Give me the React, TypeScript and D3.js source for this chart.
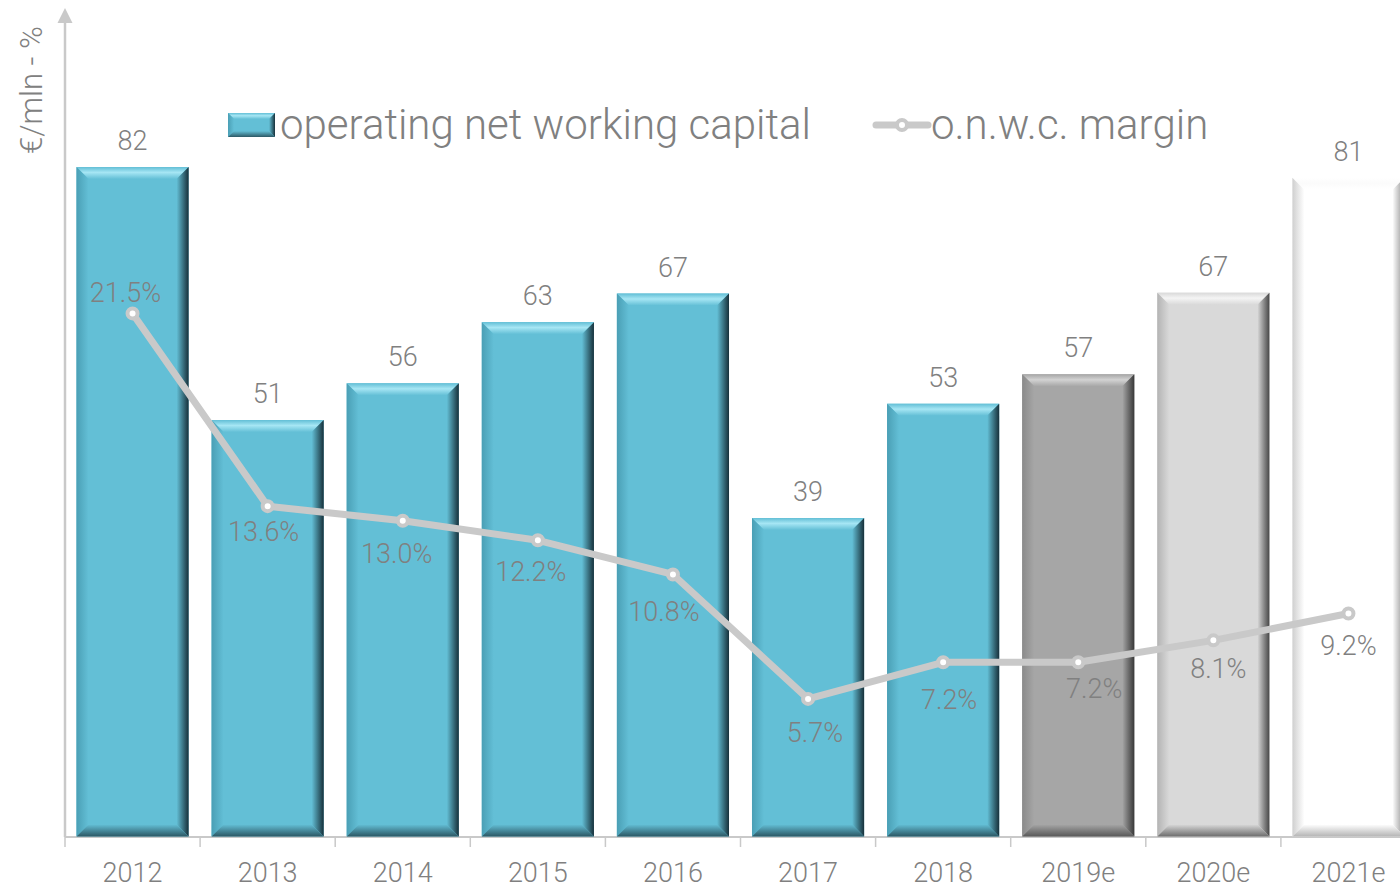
import * as d3 from "d3";

// data
const years = ["2012", "2013", "2014", "2015", "2016", "2017", "2018", "2019e", "2020e", "2021e"];
const onwc = [82, 51, 55.5, 63, 66.5, 39, 53, 56.6, 66.6, 80.7];
const margin = [21.5, 13.6, 13.0, 12.2, 10.8, 5.7, 7.2, 7.2, 8.1, 9.2];
const barTheme = ["teal", "teal", "teal", "teal", "teal", "teal", "teal", "dark", "light", "white"];
// manual label nudges for the margin labels, as placed in the original
const marginNudge: [number, number][] = [
  [-7, -21], [-4, 25], [-6, 33], [-7, 31], [-9, 37],
  [7, 34], [6, 37], [16, 26], [5, 28], [0, 32],
];

const W = 1400;
const H = 889;
const FONT = "Roboto, 'Noto Sans', sans-serif";
const TEXT = "#808080";
const LINE = "#c9c9c9";

const themes: Record<string, { body: string; edge: string; hi: string; right: string; bottom: string }> = {
  teal: { body: "#63bfd6", edge: "#4a9fb5", hi: "#a6e6f4", right: "#17303a", bottom: "#2c5865" },
  dark: { body: "#a6a6a6", edge: "#8a8a8a", hi: "#d2d2d2", right: "#383838", bottom: "#595959" },
  light: { body: "#d9d9d9", edge: "#b4b4b4", hi: "#f4f4f4", right: "#474747", bottom: "#6e6e6e" },
  white: { body: "#ffffff", edge: "#cfcfcf", hi: "#fbfbfb", right: "#8c8c8c", bottom: "#b5b5b5" },
};

const x = d3.scaleBand<string>().domain(years).range([65, 65 + 1351]).paddingInner(0.17).paddingOuter(0.085);
const y = d3.scaleLinear().domain([0, 100]).range([836.4, 20.1]);
const y2 = d3.scaleLinear().domain([0, 30]).range([838, 106]);

const fmtVal = d3.format(".0f");
const fmtPct = (v: number) => d3.format(".1f")(v) + "%";

function Gradients() {
  return (
    <defs>
      {Object.entries(themes).map(([k, t]) => (
        <g key={k}>
          <linearGradient id={`${k}-top`} x1="0" y1="0" x2="0" y2="1">
            <stop offset="0" stopColor={t.body} />
            <stop offset="0.45" stopColor={t.hi} />
            <stop offset="1" stopColor={t.body} />
          </linearGradient>
          <linearGradient id={`${k}-left`} x1="0" y1="0" x2="1" y2="0">
            <stop offset="0" stopColor={t.edge} />
            <stop offset="1" stopColor={t.body} />
          </linearGradient>
          <linearGradient id={`${k}-right`} x1="0" y1="0" x2="1" y2="0">
            <stop offset="0" stopColor={t.body} />
            <stop offset="0.5" stopColor={d3.interpolateRgb(t.body, t.right)(0.5)} />
            <stop offset="1" stopColor={t.right} />
          </linearGradient>
          <linearGradient id={`${k}-bottom`} x1="0" y1="0" x2="0" y2="1">
            <stop offset="0" stopColor={t.body} />
            <stop offset="1" stopColor={t.bottom} />
          </linearGradient>
        </g>
      ))}
    </defs>
  );
}

function BevelBar({ x0, y0, w, h, b, theme }: { x0: number; y0: number; w: number; h: number; b: number; theme: string }) {
  const x1 = x0 + w;
  const y1 = y0 + h;
  const t = themes[theme];
  const pts = (p: number[][]) => p.map((d) => d.join(",")).join(" ");
  return (
    <g>
      <rect x={x0} y={y0} width={w} height={h} fill={t.body} />
      <polygon points={pts([[x0, y0], [x1, y0], [x1 - b, y0 + b], [x0 + b, y0 + b]])} fill={`url(#${theme}-top)`} />
      <polygon points={pts([[x0, y0], [x0 + b, y0 + b], [x0 + b, y1 - b], [x0, y1]])} fill={`url(#${theme}-left)`} />
      <polygon points={pts([[x1 - b, y0 + b], [x1, y0], [x1, y1], [x1 - b, y1 - b]])} fill={`url(#${theme}-right)`} />
      <polygon points={pts([[x0 + b, y1 - b], [x1 - b, y1 - b], [x1, y1], [x0, y1]])} fill={`url(#${theme}-bottom)`} />
    </g>
  );
}

export default function App() {
  const bw = x.bandwidth();
  const step = x.step();
  const cx = (c: string) => (x(c) ?? 0) + bw / 2;
  const line = d3.line<number>().x((_, i) => cx(years[i])).y((d) => y2(d));
  const boundaries = d3.range(years.length + 1).map((i) => 65 + i * step);

  return (
    <div style={{ position: "fixed", left: 0, top: 0, width: W, height: H, overflow: "hidden", background: "#fff" }}>
      <svg width={W} height={H} style={{ display: "block", fontFamily: FONT, fontWeight: 300 }}>
        <Gradients />

        {/* axes */}
        <line x1={65} x2={65} y1={20} y2={837} stroke={LINE} strokeWidth={2.5} />
        <polygon points="65,8 57.5,23 72.5,23" fill={LINE} />
        <line x1={65} x2={W} y1={837} y2={837} stroke={LINE} strokeWidth={2} />
        {boundaries.map((bx, i) => (
          <line key={i} x1={bx} x2={bx} y1={837} y2={847} stroke={LINE} strokeWidth={1.5} />
        ))}
        <text transform="translate(42,90) rotate(-90)" textAnchor="middle" fontSize={31} fill={TEXT}>€/mln - %</text>

        {/* bars */}
        {years.map((c, i) => (
          <BevelBar key={c} x0={x(c) ?? 0} y0={y(onwc[i])} w={bw} h={y(0) - y(onwc[i])} b={12} theme={barTheme[i]} />
        ))}
        {years.map((c, i) => (
          <text key={c} x={cx(c)} y={y(onwc[i]) - 17} textAnchor="middle" fontSize={27} fill={TEXT}>{fmtVal(onwc[i])}</text>
        ))}
        {years.map((c) => (
          <text key={c} x={cx(c)} y={882} textAnchor="middle" fontSize={27} fill={TEXT}>{c}</text>
        ))}

        {/* margin line */}
        <path d={line(margin) ?? ""} fill="none" stroke={LINE} strokeWidth={7} strokeLinejoin="round" />
        {margin.map((m, i) => (
          <circle key={i} cx={cx(years[i])} cy={y2(m)} r={5} fill="#fff" stroke={LINE} strokeWidth={4} />
        ))}
        {margin.map((m, i) => (
          <text key={i} x={cx(years[i]) + marginNudge[i][0]} y={y2(m) + marginNudge[i][1]} dy="0.35em" textAnchor="middle" fontSize={27} fill={TEXT}>{fmtPct(m)}</text>
        ))}

        {/* legend */}
        <BevelBar x0={228} y0={113} w={47} h={24} b={6} theme="teal" />
        <text x={280} y={139} fontSize={42} fill={TEXT}>operating net working capital</text>
        <line x1={876} x2={928} y1={125} y2={125} stroke={LINE} strokeWidth={7} strokeLinecap="round" />
        <circle cx={902} cy={125} r={5} fill="#fff" stroke={LINE} strokeWidth={4} />
        <text x={931} y={139} fontSize={42} fill={TEXT}>o.n.w.c. margin</text>
      </svg>
    </div>
  );
}
